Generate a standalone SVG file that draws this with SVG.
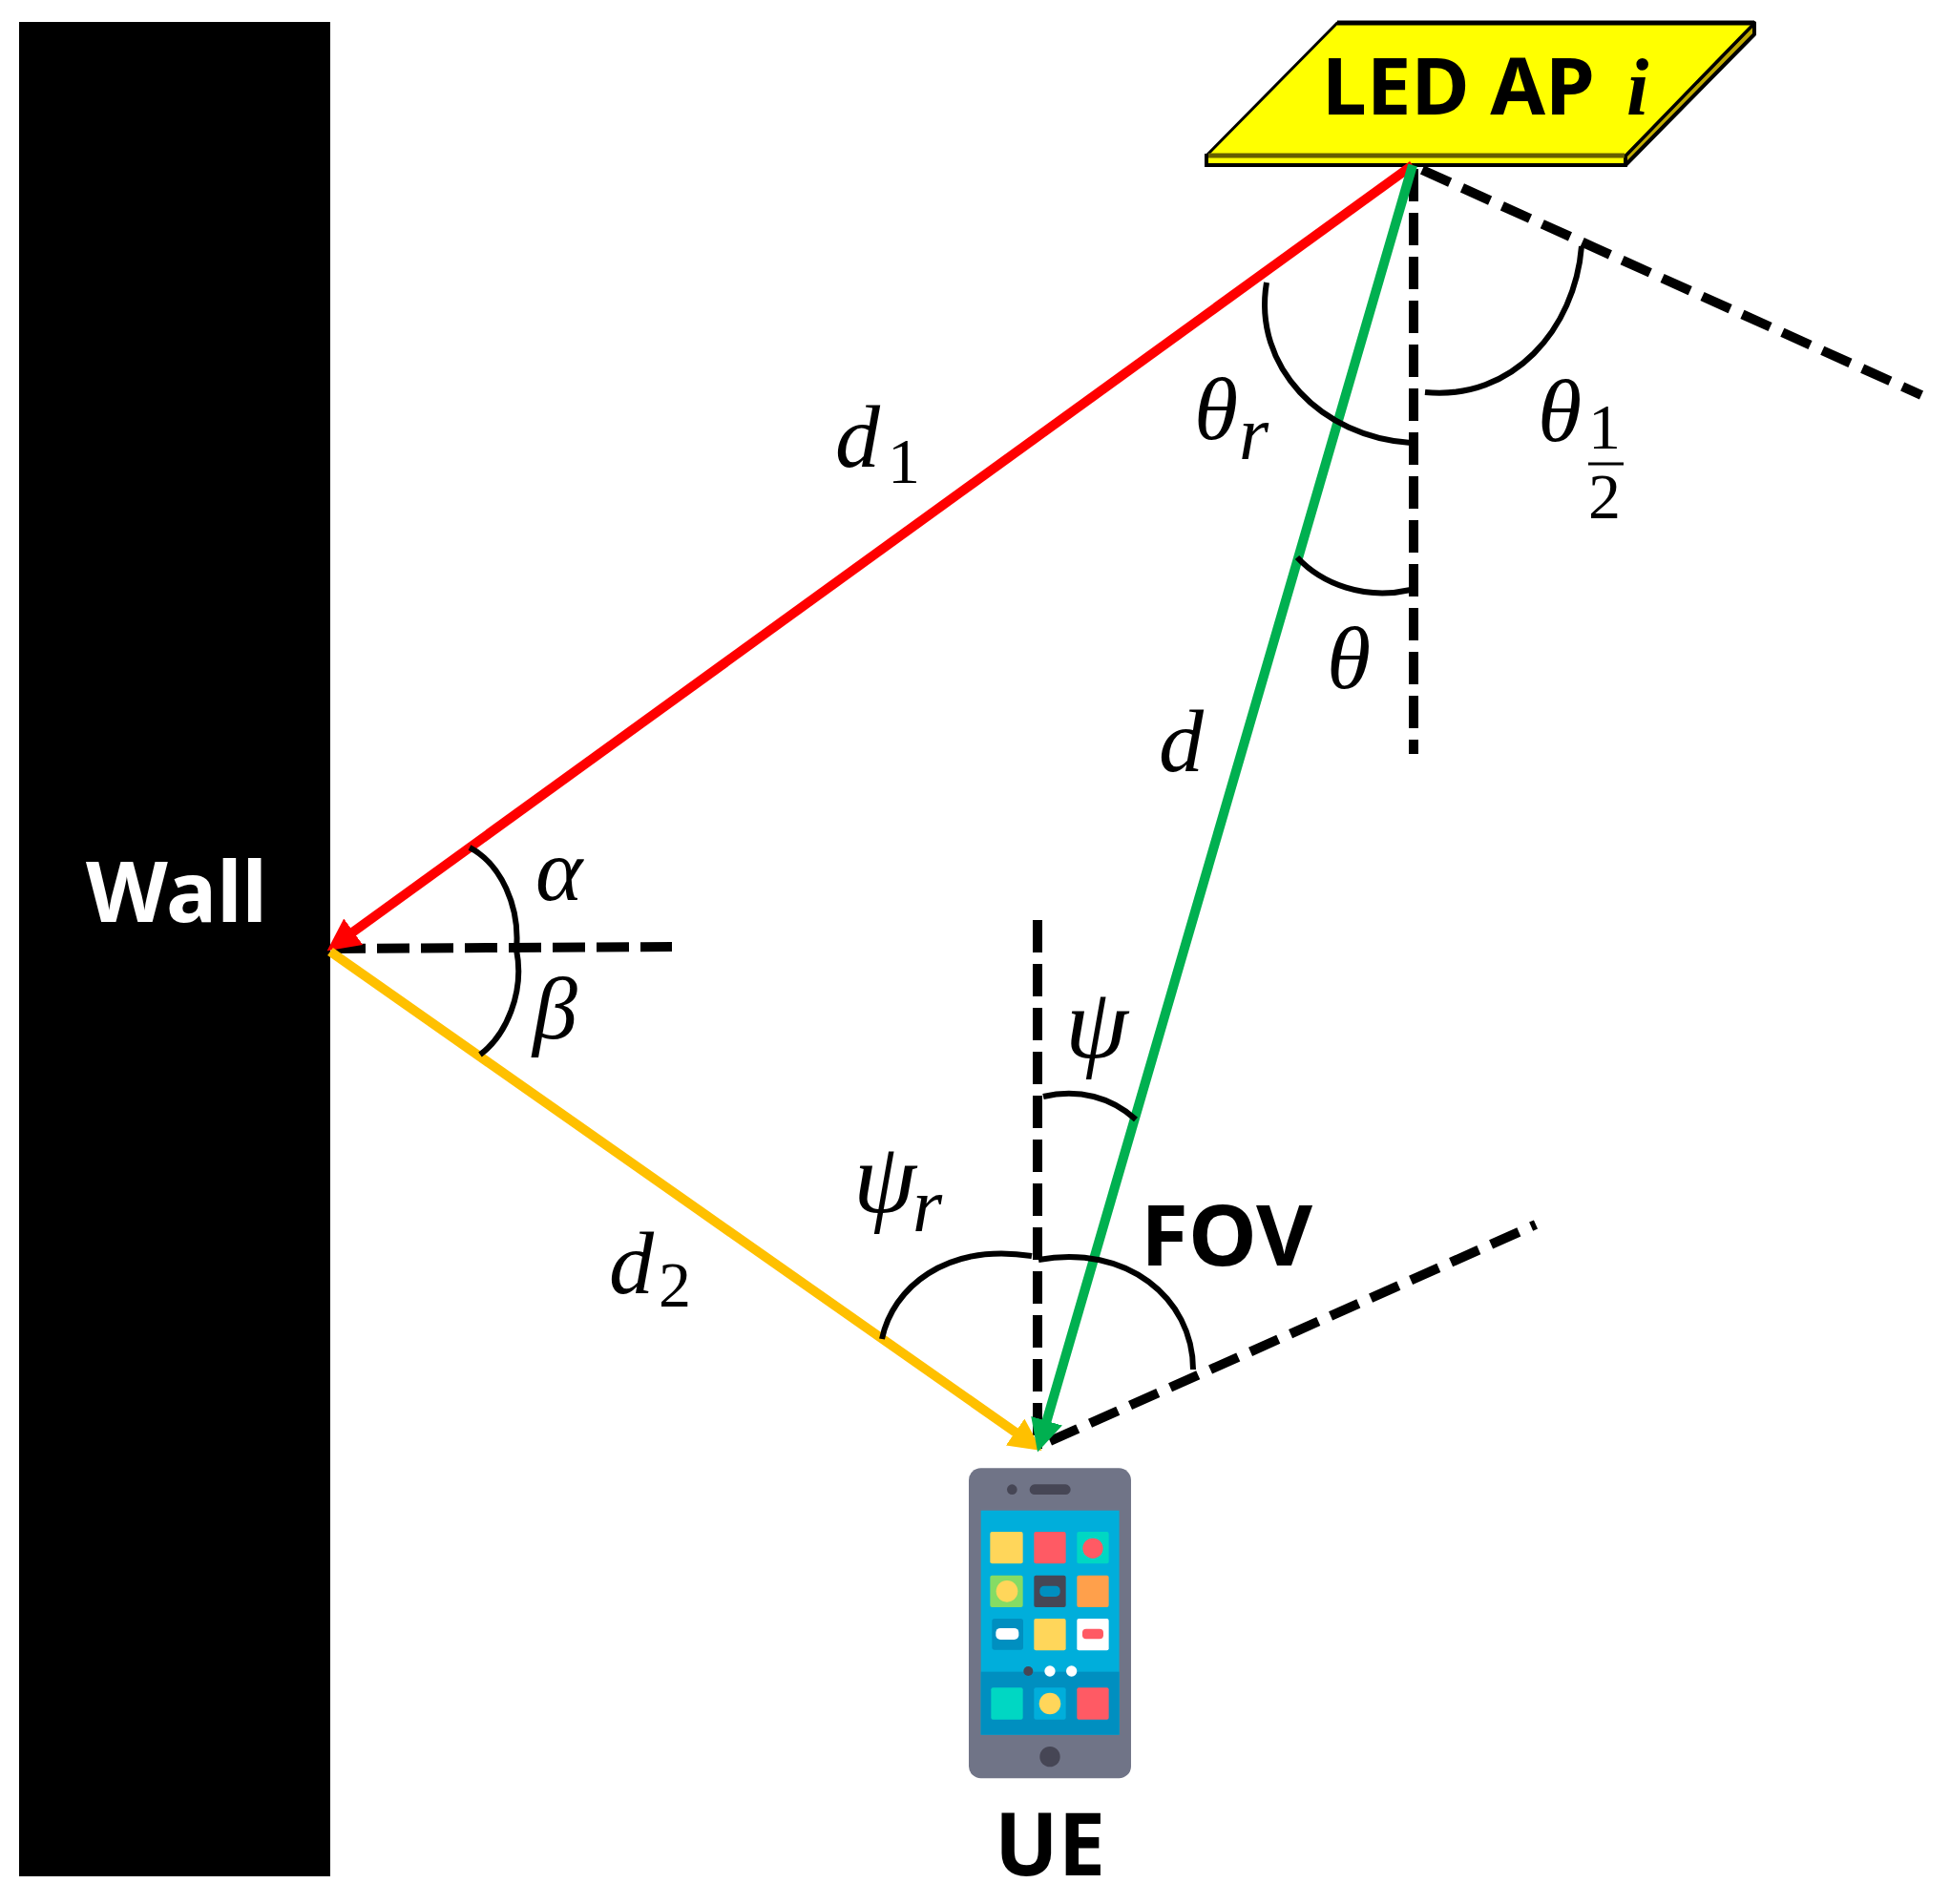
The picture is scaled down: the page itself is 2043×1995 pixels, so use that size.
<svg xmlns="http://www.w3.org/2000/svg" width="2043" height="1995" viewBox="0 0 2043 1995">
<style>
.b{font-family:"Noto Sans","Open Sans",sans-serif;font-weight:700;fill:#000}
.m{font-family:"Liberation Serif",serif;font-style:italic;fill:#000;font-size:94px}
.p{font-family:"Liberation Serif",serif;font-style:italic;fill:#000;font-size:106px}
.s{font-family:"Liberation Serif",serif;fill:#000;font-size:68px}
.si{font-family:"Liberation Serif",serif;font-style:italic;fill:#000;font-size:80px}
.dash{fill:none;stroke:#000;stroke-width:10}
.v{stroke-dasharray:34 12}
.d{stroke-dasharray:32 14}
.arc{fill:none;stroke:#000;stroke-width:6}
</style>
<defs>
<marker id="hr" markerUnits="userSpaceOnUse" markerWidth="36" markerHeight="34" refX="20" refY="17" orient="auto"><path d="M0,0L34,17L0,34z" fill="#f00"/></marker>
<marker id="hy" markerUnits="userSpaceOnUse" markerWidth="36" markerHeight="34" refX="20" refY="17" orient="auto"><path d="M0,0L34,17L0,34z" fill="#ffc000"/></marker>
<marker id="hg" markerUnits="userSpaceOnUse" markerWidth="36" markerHeight="34" refX="20" refY="17" orient="auto"><path d="M0,0L34,17L0,34z" fill="#00b050"/></marker>
</defs>
<rect width="2043" height="1995" fill="#fff"/>
<g id="wall">
<rect x="20" y="23" width="326" height="1943" fill="#000"/>
<text x="185" y="966" text-anchor="middle" font-size="88" class="b" style="fill:#fff" textLength="190" lengthAdjust="spacingAndGlyphs">Wall</text>
</g>
<g id="led-ap">
<path d="M1703,163L1838,24V36L1703,173z" fill="#bfaa00" stroke="#000" stroke-width="4" stroke-linejoin="round"/>
<rect x="1264" y="163" width="439" height="10" fill="#ff0" stroke="#000" stroke-width="4"/>
<path d="M1264,163L1401,24H1838L1703,163z" fill="#ff0" stroke="#000" stroke-width="3" stroke-linejoin="round"/>
<path d="M1401,24H1838" stroke="#000" stroke-width="5"/>
<path d="M1266,163H1702" stroke="#665f00" stroke-width="5"/>
<text x="1385" y="120" font-size="82" class="b" textLength="286" lengthAdjust="spacingAndGlyphs">LED AP</text>
<text x="1704" y="120" class="m" style="font-weight:700;font-size:84px">i</text>
</g>
<g id="connectors">
<path class="dash v" d="M1481,177V790"/>
<path class="dash d" d="M1490,178L2013,414"/>
<path class="dash v" d="M349,994L704,992"/>
<path class="dash v" d="M1087,964V1518"/>
<path class="dash d" d="M1100,1510L1609,1283"/>
<path d="M1480,173L354,988" stroke="#f00" stroke-width="10" fill="none" marker-end="url(#hr)"/>
<path d="M346,997L1080,1512" stroke="#ffc000" stroke-width="10" fill="none" marker-end="url(#hy)"/>
<path d="M1480,173L1091,1508" stroke="#00b050" stroke-width="10" fill="none" marker-end="url(#hg)"/>
<path class="arc" d="M1327,296C1312,385 1385,458 1478,464"/>
<path class="arc" d="M1657,258C1650,345 1585,420 1493,411"/>
<path class="arc" d="M1359,584C1385,612 1430,629 1478,618"/>
<path class="arc" d="M492,888C525,905 545,950 541,995C550,1040 530,1085 503,1105"/>
<path class="arc" d="M1093,1149C1130,1140 1165,1150 1190,1173"/>
<path class="arc" d="M924,1403C935,1350 990,1302 1081,1316"/>
<path class="arc" d="M1088,1320C1180,1303 1250,1360 1250,1435"/>
</g>
<g id="labels">
<text x="875" y="489" class="m">d</text><text x="930" y="506" class="s">1</text>
<text x="1251" y="460" class="m">θ</text><text x="1298" y="481" class="si">r</text>
<text x="1611" y="462" class="m">θ</text><text x="1681" y="470" class="s" text-anchor="middle">1</text>
<path d="M1664,486H1701" stroke="#000" stroke-width="3"/>
<text x="1681" y="543" class="s" text-anchor="middle">2</text>
<text x="1390" y="721" class="m">θ</text>
<text x="1214" y="808" class="m">d</text>
<text x="561" y="943" class="m">α</text>
<text x="558" y="1088" class="m">β</text>
<text x="1116" y="1108" class="p">ψ</text>
<text x="894" y="1270" class="p">ψ</text><text x="956" y="1290" class="si">r</text>
<text x="638" y="1355" class="m">d</text><text x="690" y="1369" class="s">2</text>
<text x="1195" y="1326" font-size="88" class="b" textLength="180" lengthAdjust="spacingAndGlyphs">FOV</text>
<text x="1100" y="1965" font-size="92" class="b" text-anchor="middle" textLength="116" lengthAdjust="spacingAndGlyphs">UE</text>
</g>
<g id="ue-phone" transform="translate(980,1500) scale(.3333)">
<rect x="105" y="115" width="510" height="975" rx="38" fill="#707487"/>
<circle cx="241" cy="182" r="16" fill="#464655"/>
<rect x="296" y="166" width="129" height="32" rx="16" fill="#464655"/>
<rect x="143" y="248" width="435" height="705" fill="#00aedb"/>
<rect x="143" y="755" width="435" height="198" fill="#008fc0"/>
<rect x="172" y="315" width="103" height="100" rx="6" fill="#ffd65a"/>
<rect x="310" y="315" width="100" height="100" rx="6" fill="#ff5a64"/>
<rect x="445" y="315" width="100" height="100" rx="6" fill="#00d7c3"/><circle cx="495" cy="367" r="32" fill="#ff5a64"/>
<rect x="172" y="452" width="103" height="100" rx="6" fill="#85dc64"/><circle cx="225" cy="502" r="34" fill="#ffd65a"/>
<rect x="310" y="452" width="100" height="100" rx="6" fill="#464655"/><rect x="328" y="485" width="64" height="34" rx="14" fill="#008fc0"/>
<rect x="445" y="452" width="100" height="100" rx="6" fill="#ffa04b"/>
<rect x="178" y="588" width="98" height="98" rx="8" fill="#008fc0"/><rect x="190" y="618" width="72" height="36" rx="14" fill="#fff"/>
<rect x="310" y="588" width="100" height="100" rx="6" fill="#ffd65a"/>
<rect x="445" y="588" width="100" height="100" rx="6" fill="#fff"/><rect x="462" y="620" width="66" height="32" rx="12" fill="#ff5a64"/>
<circle cx="292" cy="753" r="15" fill="#464655"/><circle cx="360" cy="753" r="17" fill="#fff"/><circle cx="428" cy="753" r="17" fill="#fff"/>
<rect x="175" y="805" width="100" height="100" rx="6" fill="#00d7c3"/>
<rect x="310" y="805" width="100" height="100" rx="6" fill="#00aedb"/><circle cx="360" cy="855" r="34" fill="#ffd65a"/>
<rect x="445" y="805" width="100" height="100" rx="6" fill="#ff5a64"/>
<circle cx="360" cy="1022" r="32" fill="#464655"/>
</g>
</svg>
